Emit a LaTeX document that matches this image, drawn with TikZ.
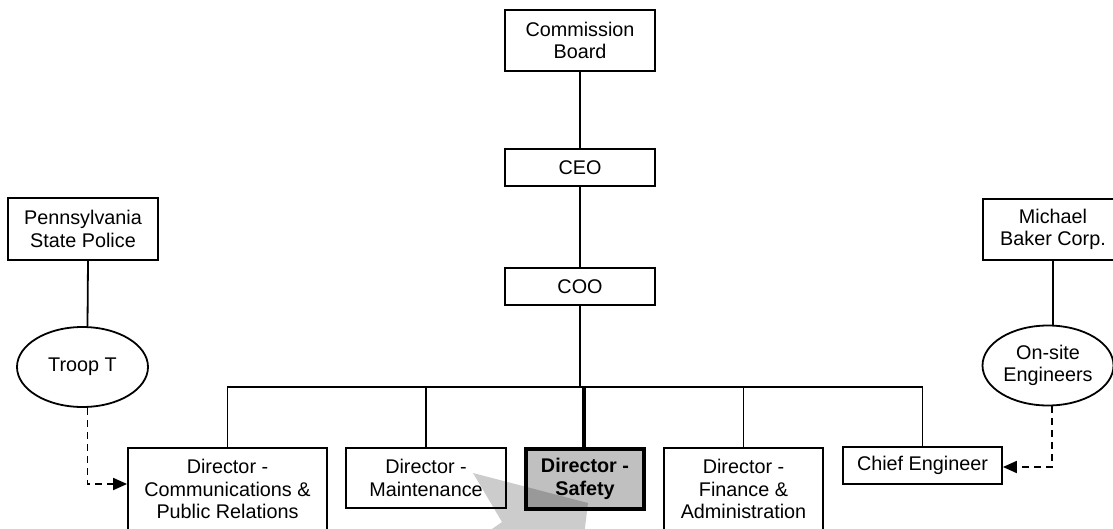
\documentclass[tikz,border=0pt]{standalone}
\usepackage{fontspec}
\setmainfont{Liberation Sans}
\usetikzlibrary{shapes.geometric,arrows.meta}
\definecolor{safetygray}{RGB}{192,192,192}
\begin{document}
\begin{tikzpicture}[x=1pt,y=-1pt,
  every node/.style={font=\fontsize{19.8}{22.5}\selectfont, align=center, inner sep=0pt},
  box/.style={draw, line width=1.8pt, rectangle},
  oval/.style={draw, line width=1.8pt, ellipse, minimum width=131pt, minimum height=80pt},
  link/.style={line width=1.8pt},
  dlink/.style={line width=1.8pt, dash pattern=on 7pt off 5pt, -{Triangle[length=14pt,width=12pt]}},
]
\useasboundingbox (0,0) rectangle (1113,529);
\clip (0,0) rectangle (1113,529);

\node[box, minimum width=150pt, minimum height=61pt] (cb) at (580,40.5) {Commission\\Board};
\node[box, minimum width=150pt, minimum height=37pt] (ceo) at (580,167.5) {CEO};
\node[box, minimum width=150pt, minimum height=37pt] (coo) at (580,286.5) {COO};
\node[box, minimum width=150pt, minimum height=62pt] (psp) at (83,229) {Pennsylvania\\State Police};
\node[oval] (troop) at (82.5,367) {Troop T};
\node[box, minimum width=140pt, minimum height=61pt] (mb) at (1053,229.5) {Michael\\Baker Corp.};
\node[oval] (os) at (1048,365.5) {On-site\\Engineers};

\node[box, minimum width=199pt, minimum height=82pt] (comm) at (227.5,489) {Director -\\Communications \&\\Public Relations};
\node[box, minimum width=160pt, minimum height=60pt] (maint) at (426,478) {Director -\\Maintenance};
\node[box, line width=4.5pt, fill=safetygray, minimum width=118pt, minimum height=60pt, font=\fontsize{19.8}{22.5}\selectfont\bfseries] (safety) at (585,479) {Director -\\Safety};
\node[box, minimum width=159pt, minimum height=82pt] (fin) at (743.5,489) {Director -\\Finance \&\\Administration};
\node[box, minimum width=159pt, minimum height=37pt] (chief) at (922.5,465.5) {Chief Engineer};

\coordinate (bar) at (580,387);
\draw[link] (cb.south) -- (ceo.north);
\draw[link] (ceo.south) -- (coo.north);
\draw[link] (coo.south) -- (coo.south |- bar);
\draw[link] (comm.north) -- (comm.north |- bar) -- (chief.north |- bar) -- (chief.north);
\draw[link] (maint.north) -- (maint.north |- bar);
\draw[line width=3.3pt] ([xshift=-1pt]safety.north) -- ([xshift=-1pt]safety.north |- bar);
\draw[link] (fin.north) -- (fin.north |- bar);
\draw[link] ([xshift=5pt]psp.south) -- ([xshift=5pt]troop.north);
\draw[link] (mb.south) -- (mb.south |- os.north);
\draw[dlink] ([xshift=5pt]troop.south) |- ([yshift=5pt]comm.west);
\draw[dlink] ([xshift=4pt]os.south) |- ([yshift=-1.5pt]chief.east);

\fill[black, fill opacity=0.2] (473,473) -- (588,503) -- (584,536) -- (482,536) -- (502,522) -- cycle;
\end{tikzpicture}
\end{document}
